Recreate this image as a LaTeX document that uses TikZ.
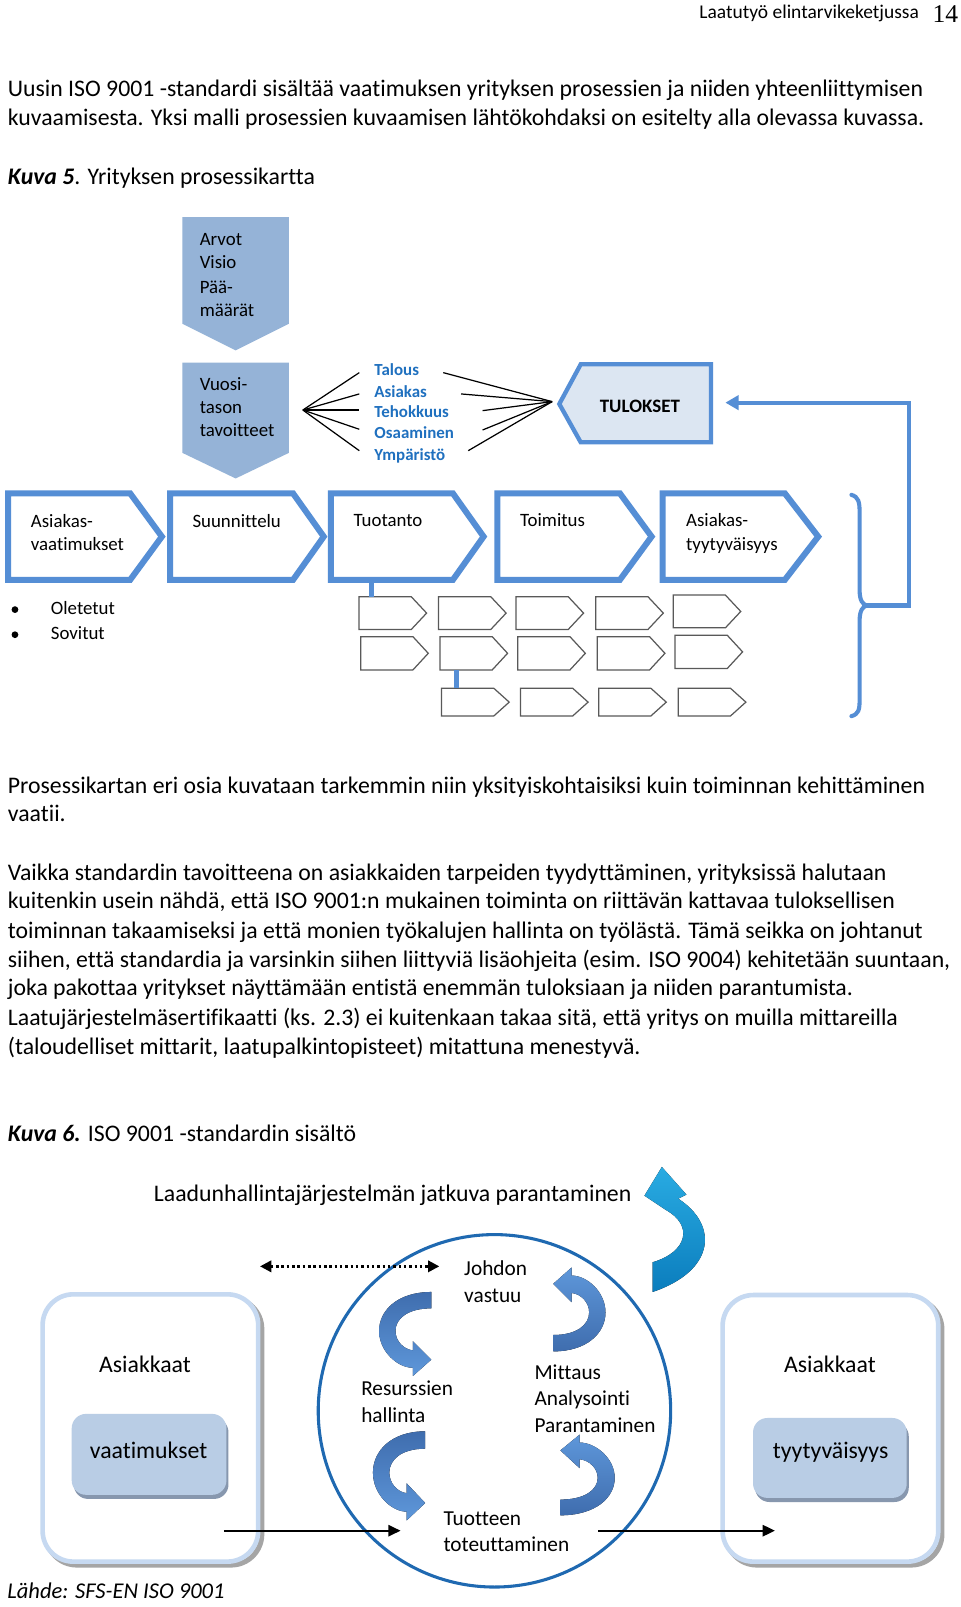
\documentclass[tikz,border=0pt]{standalone}
\usepackage{fontspec}
\setmainfont{Carlito}[Ligatures={NoCommon,NoContextual}]
\newfontfamily\numfont{Liberation Serif}
\usetikzlibrary{arrows.meta}
\definecolor{boxfill}{HTML}{95B3D7}
\definecolor{procblue}{HTML}{558ED5}
\definecolor{tulfill}{HTML}{DCE6F2}
\definecolor{txtblue}{HTML}{1F70BF}
\definecolor{circblue}{HTML}{1F69B1}
\definecolor{arrdark}{HTML}{3F6DAE}
\definecolor{arrlight}{HTML}{5E97DA}
\definecolor{cyanA}{HTML}{29ABE2}
\definecolor{cyanB}{HTML}{0B7DBD}
\definecolor{boxline}{HTML}{C6D9F1}
\definecolor{boxshadow}{HTML}{A5A5A5}
\definecolor{innerfill}{HTML}{B9CDE5}
\definecolor{innershadow}{HTML}{8797AE}
\definecolor{smallgray}{HTML}{595959}
\newcommand{\fsz}[1]{\fontsize{#1}{#1}\selectfont}
\newcommand{\pent}[6]{\draw[#6] (#1,#4) -- (#2,#4) -- (#3,{(#4+#5)/2}) -- (#2,#5) -- (#1,#5) -- cycle;}
\newcommand{\smallpent}[3]{\draw[smallst] (#1,#2) -- ++(51,0) -- ++(15,#3/2) -- ++(-15,#3/2) -- ++(-51,0) -- cycle;}
\newcommand{\ribbon}[1]{\fill[#1] (51,0) -- (51,16) .. controls (28,16) and (16,26) .. (16,38) .. controls (16,48) and (24,56) .. (33,57) -- (33,48) -- (51,66) -- (33,82) -- (33,74) .. controls (18,74) and (0,58) .. (0,38) .. controls (0,18) and (18,0) .. (51,0) -- cycle;}
\begin{document}
\begin{tikzpicture}[x=1pt,y=-1pt,
  body/.style={anchor=base west, inner sep=0pt, font=\fsz{23.2}},
  dtext/.style={anchor=base west, inner sep=0pt, font=\fsz{18.4}},
  btext/.style={anchor=base west, inner sep=0pt, font=\fsz{16.5}\bfseries, text=txtblue},
  ctext/.style={anchor=base west, inner sep=0pt, font=\fsz{20.8}},
  proc/.style={line width=5.9pt, procblue, line join=miter},
  smallst/.style={line width=1.2pt, smallgray},
  fan/.style={line width=1.2pt, black},
  leftarr/.style={top color=arrdark, bottom color=arrlight},
  rightarr/.style={top color=arrlight, bottom color=arrdark}]
\useasboundingbox (0,0) rectangle (937,1568.5);
\fill[white] (0,0) rectangle (937,1568.5);

% header
\node[anchor=base east, inner sep=0pt, font=\fsz{19}] (hdr) at (897,18) {Laatutyö elintarvikeketjussa};
\node[anchor=base west, inner sep=0pt, font=\numfont\fsz{25}] (pg) at (910,22) {14};

% intro text
\node[body] (t1) at (7.5,94.5) {Uusin ISO 9001 -standardi sisältää vaatimuksen yrityksen prosessien ja niiden yhteenliittymisen};
\node[body] (t2) at (7.5,122.5) {kuvaamisesta. Yksi malli prosessien kuvaamisen lähtökohdaksi on esitelty alla olevassa kuvassa.};
\node[body] (k5) at (7.5,180) {\textbf{\textit{Kuva 5}}. Yrityksen prosessikartta};

% Arvot / Vuosi boxes
\fill[boxfill] (178,212) -- (282,212) -- (282,316) -- (230,342) -- (178,316) -- cycle;
\fill[boxfill] (178,354) -- (282,354) -- (282,442) -- (230,467) -- (178,442) -- cycle;
\node[dtext] (a1) at (194.8,239.7) {Arvot};
\node[dtext] (a2) at (194.8,262.5) {Visio};
\node[dtext] (a3) at (194.8,286) {Pää-};
\node[dtext] (a4) at (194.8,309) {määrät};
\node[dtext] (v1) at (194.8,381.3) {Vuosi-};
\node[dtext] (v2) at (194.8,404) {tason};
\node[dtext] (v3) at (194.8,426.5) {tavoitteet};

% blue goals
\node[btext] (g1) at (365.3,366.8) {Talous};
\node[btext] (g2) at (365.3,387.6) {Asiakas};
\node[btext] (g3) at (365.3,407.8) {Tehokkuus};
\node[btext] (g4) at (365.3,428) {Osaaminen};
\node[btext] (g5) at (365.3,449) {Ympäristö};

% fans
\coordinate (fl) at (295.6,400.2);
\coordinate (fr) at (538.9,392);
\foreach \yy in {363.7,384.5,400.2,419,439.9} \draw[fan] (fl) -- (350.7,\yy);
\draw[fan] (fr) -- (432.6,363.7);
\draw[fan] (fr) -- (450,384.5);
\draw[fan] (fr) -- (471,400.8);
\draw[fan] (fr) -- (471,419.7);
\draw[fan] (fr) -- (457,439.9);

% TULOKSET
\draw[line width=4.2pt, procblue, fill=tulfill] (545.9,394.3) -- (566.8,355.6) -- (694,355.6) -- (694,431.7) -- (566.8,431.7) -- cycle;
\node[font=\fsz{18.5}\bfseries, inner sep=0pt] (tul) at (624.5,396.5) {TULOKSET};
\coordinate (tulR) at (708,393);

% process row
\pent{8}{127}{158}{481.5}{566}{proc}
\pent{166}{286}{316}{481.5}{566}{proc}
\pent{323}{442}{472}{481.5}{566}{proc}
\pent{485.4}{605}{636}{481.5}{566}{proc}
\pent{646.8}{766}{798.6}{481.5}{566}{proc}
\node[dtext] (p1a) at (30,515) {Asiakas-};
\node[dtext] (p1b) at (30,537.5) {vaatimukset};
\node[dtext] (p2) at (187.7,515) {Suunnittelu};
\node[dtext] (p3) at (345,513.5) {Tuotanto};
\node[dtext] (p4) at (507.5,514) {Toimitus};
\node[dtext] (p5a) at (669.5,514) {Asiakas-};
\node[dtext] (p5b) at (669.5,537) {tyytyväisyys};

% bullets
\fill (14.6,595) circle (3.3);
\fill (14.6,619.5) circle (3.3);
\node[dtext] (b1) at (49.5,600) {Oletetut};
\node[dtext] (b2) at (49.5,624.6) {Sovitut};

% small process boxes
\smallpent{350.4}{582.4}{32}
\smallpent{428}{582.4}{32}
\smallpent{503.6}{582.4}{32}
\smallpent{581.4}{582.4}{32}
\smallpent{657}{580.8}{32}
\smallpent{352}{621.4}{32.5}
\smallpent{429.4}{621.4}{32.5}
\smallpent{505.3}{621.4}{32.5}
\smallpent{583}{621.4}{32.5}
\smallpent{658.8}{620}{32.5}
\smallpent{431}{671.8}{27}
\smallpent{508}{671.8}{27}
\smallpent{584.3}{671.8}{27}
\smallpent{662}{671.8}{27}
\coordinate (c1a) at (363,566);
\coordinate (c1b) at (363,582.4);
\coordinate (c2a) at (445.3,654);
\coordinate (c2b) at (445.3,671.8);
\draw[line width=5pt, procblue] (c1a) -- (c1b);
\draw[line width=5pt, procblue] (c2a) -- (c2b);

% brace and feedback
\coordinate (brmid) at (846,591);
\draw[line width=4pt, procblue, line cap=round] (831,483) .. controls (838,485) and (839,490) .. (839,500) -- (839,576) .. controls (839,586) and (842,590) .. (brmid) .. controls (842,592) and (839,596) .. (839,606) -- (839,683) .. controls (839,693) and (838,697) .. (831,699);
\draw[line width=4pt, procblue, -{Triangle[length=13pt,width=14pt]}] (brmid) -- (887,591) -- (887,393) -- (tulR);

% paragraph
\node[body] (q1) at (7.5,774) {Prosessikartan eri osia kuvataan tarkemmin niin yksityiskohtaisiksi kuin toiminnan kehittäminen};
\node[body] (q2) at (7.5,802) {vaatii.};
\node[body] (r1) at (7.5,859) {Vaikka standardin tavoitteena on asiakkaiden tarpeiden tyydyttäminen, yrityksissä halutaan};
\node[body] (r2) at (7.5,887) {kuitenkin usein nähdä, että ISO 9001:n mukainen toiminta on riittävän kattavaa tuloksellisen};
\node[body] (r3) at (7.5,916) {toiminnan takaamiseksi ja että monien työkalujen hallinta on työlästä. Tämä seikka on johtanut};
\node[body] (r4) at (7.5,944) {siihen, että standardia ja varsinkin siihen liittyviä lisäohjeita (esim. ISO 9004) kehitetään suuntaan,};
\node[body] (r5) at (7.5,972) {joka pakottaa yritykset näyttämään entistä enemmän tuloksiaan ja niiden parantumista.};
\node[body] (r6) at (7.5,1001) {Laatujärjestelmäsertifikaatti (ks. 2.3) ei kuitenkaan takaa sitä, että yritys on muilla mittareilla};
\node[body] (r7) at (7.5,1029) {(taloudelliset mittarit, laatupalkintopisteet) mitattuna menestyvä.};
\node[body] (k6) at (7.5,1114) {\textbf{\textit{Kuva 6.}} ISO 9001 -standardin sisältö};

% Kuva 6 diagram
\node[body] (lh) at (150,1173) {Laadunhallintajärjestelmän jatkuva parantaminen};
\fill[top color=cyanA, bottom color=cyanB] (646,1139) -- (670,1166) -- (662,1170) .. controls (701,1195) and (699,1240) .. (637,1261) -- (637,1232) .. controls (671,1222) and (677,1196) .. (650,1181) -- (629,1167) -- cycle;

% customer boxes
\draw[line width=5pt, boxshadow, rounded corners=30pt] (45,1267) rectangle (255.5,1527.5);
\draw[line width=4.5pt, boxline, fill=white, rounded corners=30pt] (41.6,1263.3) rectangle (252,1524.2);
\fill[innershadow, rounded corners=14pt] (72,1384) rectangle (223,1463);
\fill[innerfill, rounded corners=14pt] (70,1380) rectangle (221,1459);
\draw[line width=5pt, boxshadow, rounded corners=30pt] (708.7,1267.5) rectangle (919.3,1527.5);
\draw[line width=4.5pt, boxline, fill=white, rounded corners=30pt] (705.3,1264) rectangle (915.8,1524.2);
\fill[innershadow, rounded corners=14pt] (737,1388) rectangle (887,1466);
\fill[innerfill, rounded corners=14pt] (735,1384) rectangle (885,1462);
\node[anchor=base, inner sep=0pt, font=\fsz{23.2}] (asl) at (141.5,1339.5) {Asiakkaat};
\node[anchor=base, inner sep=0pt, font=\fsz{23.2}] (vaat) at (145,1424) {vaatimukset};
\node[anchor=base, inner sep=0pt, font=\fsz{23.2}] (asr) at (810,1339.5) {Asiakkaat};
\node[anchor=base, inner sep=0pt, font=\fsz{23.2}] (tyyt) at (810.7,1424) {tyytyväisyys};

% circle
\node[circle, draw=circblue, line width=3pt, minimum size=344pt, inner sep=0pt] (circ) at (482.6,1377) {};

% inner ribbons
\ribbon{leftarr, shift={(370,1261)}}
\ribbon{leftarr, shift={(364,1397)}, yscale=1.06}
\ribbon{rightarr, shift={(591,1319)}, rotate=180}
\ribbon{rightarr, shift={(600,1479)}, rotate=180, xscale=1.04, yscale=0.96}

% circle texts
\node[ctext] (j1) at (452.9,1245) {Johdon};
\node[ctext] (j2) at (452.9,1271) {vastuu};
\node[ctext] (rs1) at (352.4,1362) {Resurssien};
\node[ctext] (rs2) at (352.4,1388) {hallinta};
\node[ctext] (m1) at (521.5,1346) {Mittaus};
\node[ctext] (m2) at (521.5,1372) {Analysointi};
\node[ctext] (m3) at (521.5,1398) {Parantaminen};
\node[ctext] (tt1) at (432.7,1488.5) {Tuotteen};
\node[ctext] (tt2) at (432.7,1514.5) {toteuttaminen};

% arrows
\coordinate (dl) at (253.8,1236);
\coordinate (dr) at (428.8,1236);
\draw[line width=2.5pt, dash pattern=on 2.5pt off 2.7pt, {Triangle[length=11pt,width=11pt]}-{Triangle[length=11pt,width=11pt]}] (dl) -- (dr);
\coordinate (la) at (218.6,1494);
\coordinate (lb) at (391,1494);
\coordinate (ra) at (584,1494);
\coordinate (rb) at (756.4,1494);
\draw[line width=2pt, -{Triangle[length=12pt,width=11pt]}] (la) -- (lb);
\draw[line width=2pt, -{Triangle[length=12pt,width=11pt]}] (ra) -- (rb);

\node[anchor=base west, inner sep=0pt, font=\fsz{22}\itshape] (src) at (7,1560) {Lähde: SFS-EN ISO 9001};
\end{tikzpicture}
\end{document}
